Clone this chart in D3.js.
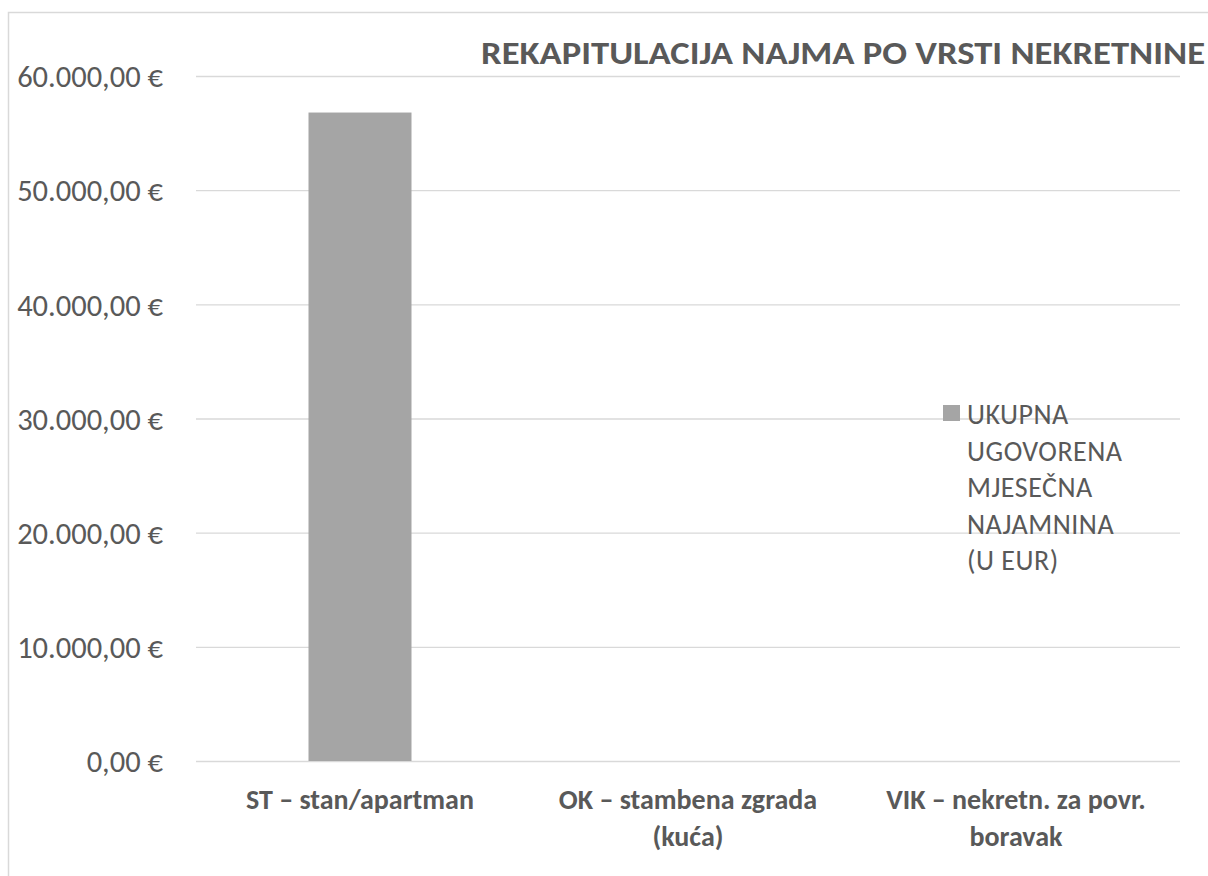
<!DOCTYPE html>
<html>
 <head>
  <title>Rekapitulacija najma</title>
  <style>
  body {
   margin: 0;
   background: #fff;
  }
  svg text {
   font-family: Carlito, Calibri, Lato, sans-serif;
   fill: #595959;
  }
  </style>
 </head>
 <body>
  <script src="https://cdnjs.cloudflare.com/ajax/libs/d3/7.8.3/d3.min.js"></script>
  <script>
   const categories = [
    ["ST – stan/apartman"],
    ["OK – stambena zgrada", "(kuća)"],
    ["VIK – nekretn. za povr.", "boravak"]
   ];
   const values = [56800, 0, 0];
   const yTicks = [0, 10000, 20000, 30000, 40000, 50000, 60000];
   const tickLabels = ["0,00 €", "10.000,00 €", "20.000,00 €", "30.000,00 €", "40.000,00 €", "50.000,00 €", "60.000,00 €"];
   const legendLines = ["UKUPNA", "UGOVORENA", "MJESEČNA", "NAJAMNINA", "(U EUR)"];
   const title = "REKAPITULACIJA NAJMA PO VRSTI NEKRETNINE";

   const w = 1208;
   const h = 876;
   const pLeft = 196, pRight = 1180, pTop = 76, pBottom = 761;

   const svg = d3.select("body")
                 .append("svg")
                 .attr("width", w)
                 .attr("height", h);

   // chart border
   svg.append("rect")
      .attr("x", 8.5)
      .attr("y", 12.5)
      .attr("width", 1220)
      .attr("height", 900)
      .attr("fill", "none")
      .attr("stroke", "#d9d9d9")
      .attr("stroke-width", 1.5);

   const x = d3.scaleBand()
               .domain(d3.range(categories.length))
               .range([pLeft, pRight])
               .paddingInner(0.686)
               .paddingOuter(0.343);
   const y = d3.scaleLinear()
               .domain([0, 60000])
               .range([pBottom, pTop]);

   const yAxis = d3.axisLeft(y)
                   .tickValues(yTicks)
                   .tickSize(-(pRight - pLeft))
                   .tickFormat((d, i) => tickLabels[i]);
   const gy = svg.append("g")
                 .attr("transform", "translate(" + pLeft + ",0)")
                 .call(yAxis);
   gy.select(".domain").remove();
   gy.selectAll(".tick line")
     .attr("stroke", "#d9d9d9")
     .attr("stroke-width", 1.3);
   gy.selectAll(".tick text")
     .attr("x", -33)
     .attr("dy", "0.35em")
     .style("font-size", "30.5px")
     .attr("fill", "#595959");

   svg.selectAll(".bar")
      .data(values)
      .enter()
      .append("rect")
      .attr("class", "bar")
      .attr("x", (d, i) => x(i))
      .attr("y", d => y(d))
      .attr("width", x.bandwidth())
      .attr("height", d => y(0) - y(d))
      .attr("fill", "#a5a5a5");

   const xb = d3.scaleBand()
                .domain(d3.range(categories.length))
                .range([pLeft, pRight]);
   const xl = svg.selectAll(".xlabel")
                 .data(categories)
                 .enter()
                 .append("text")
                 .attr("class", "xlabel")
                 .attr("text-anchor", "middle")
                 .attr("x", (d, i) => xb(i) + xb.bandwidth() / 2)
                 .attr("y", 809)
                 .style("font-size", "28px")
                 .style("font-weight", "bold");
   xl.selectAll("tspan")
     .data(d => d)
     .enter()
     .append("tspan")
     .attr("x", function() { return this.parentNode.getAttribute("x"); })
     .attr("dy", (d, i) => i === 0 ? 0 : 37)
     .text(d => d);

   svg.append("text")
      .attr("x", 481)
      .attr("y", 64)
      .attr("textLength", 724)
      .attr("lengthAdjust", "spacingAndGlyphs")
      .style("font-size", "32px")
      .style("font-weight", "bold")
      .text(title);

   // legend
   svg.append("rect")
      .attr("x", 943)
      .attr("y", 405)
      .attr("width", 17)
      .attr("height", 16)
      .attr("fill", "#a5a5a5");
   svg.append("text")
      .attr("x", 967)
      .attr("y", 424)
      .style("font-size", "28px")
      .style("letter-spacing", "0.5px")
      .selectAll("tspan")
      .data(legendLines)
      .enter()
      .append("tspan")
      .attr("x", 967)
      .attr("dy", (d, i) => i === 0 ? 0 : 36.6)
      .text(d => d);
  </script>
 </body>
</html>
